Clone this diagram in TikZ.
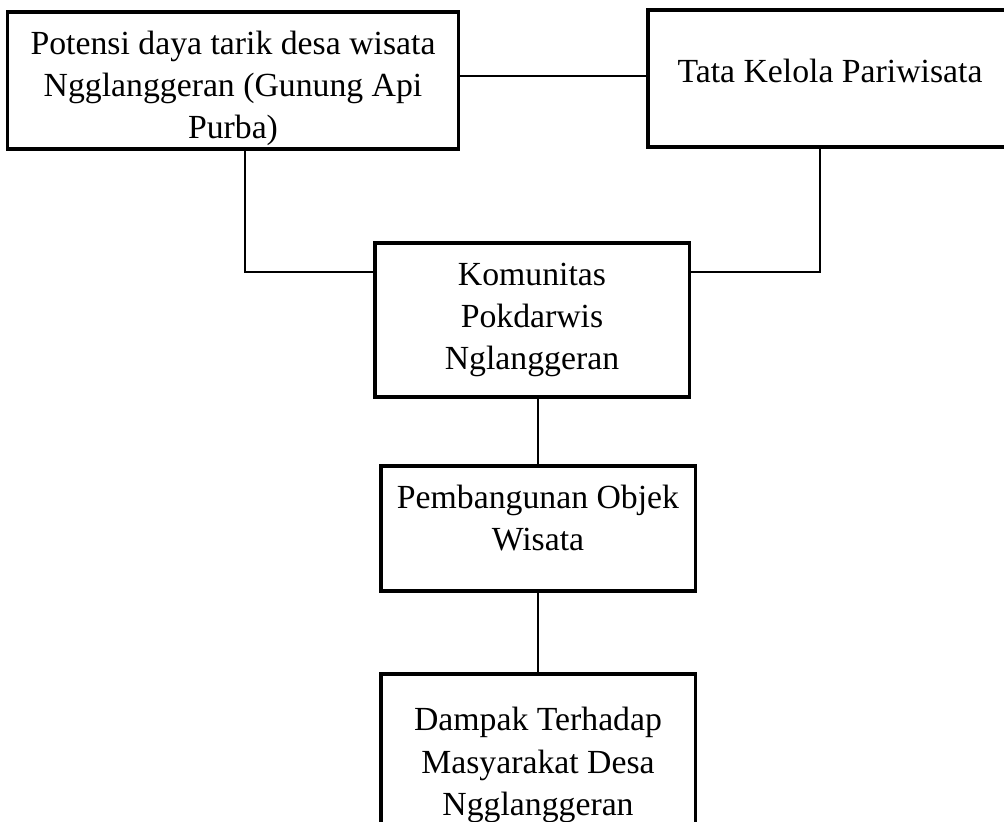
\documentclass[tikz,border=0pt]{standalone}
\usepackage{fontspec}
\setmainfont{Liberation Serif}
\begin{document}
\begin{tikzpicture}[x=0.025cm, y=-0.025cm,
  box/.style={draw, line width=2.2pt, inner sep=0pt, align=center,
    font=\fontsize{24}{30}\selectfont},
  link/.style={line width=0.9pt}]
 \clip (0,0) rectangle (1004,821);
 \node[box, minimum width=11.25cm, minimum height=3.425cm] (pot) at (233,80.5)
   {\rule{0pt}{28pt}Potensi daya tarik desa wisata\\Ngglanggeran (Gunung Api\\Purba)};
 \node[box, minimum width=9.1cm, minimum height=3.425cm, text depth=0.4cm] (tata) at (830,78.5)
   {Tata Kelola Pariwisata};
 \node[box, minimum width=7.85cm, minimum height=3.85cm] (kom) at (532,320)
   {Komunitas\\Pokdarwis\\Nglanggeran};
 \node[box, minimum width=7.85cm, minimum height=3.125cm] (pem) at (538,528.5)
   {Pembangunan Objek\\Wisata\rule[-15pt]{0pt}{0pt}};
 \node[box, minimum width=7.85cm, minimum height=4.55cm] (dam) at (538,765)
   {Dampak Terhadap\\Masyarakat Desa\\Ngglanggeran};
 % junctions of the side links
 \coordinate (lj) at (245,272);
 \coordinate (rj) at (820,272);
 \draw[link] (pot.east |- 0,76) -- (tata.west |- 0,76);
 \draw[link] (pot.south -| lj) |- (kom.west |- lj);
 \draw[link] (tata.south -| rj) |- (kom.east |- rj);
 \draw[link] (pem.north |- kom.south) -- (pem.north);
 \draw[link] (pem.south) -- (dam.north);
\end{tikzpicture}
\end{document}
